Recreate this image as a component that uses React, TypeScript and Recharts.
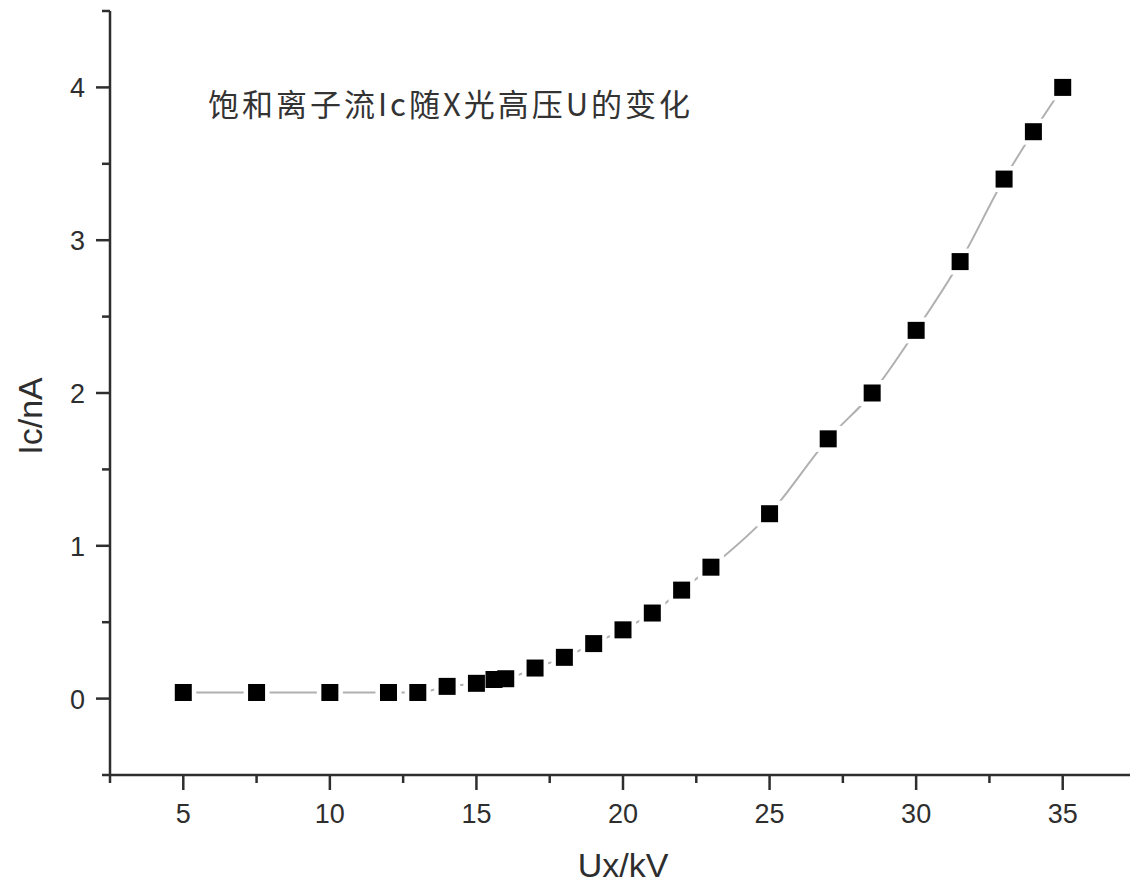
import React from 'react';
import { ComposedChart, Line, Scatter, XAxis, YAxis, Label } from 'recharts';

const voltage = [5, 7.5, 10, 12, 13, 14, 15, 15.6, 16, 17, 18, 19, 20, 21, 22, 23, 25, 27, 28.5, 30, 31.5, 33, 34, 35];
const current = [0.04, 0.04, 0.04, 0.04, 0.04, 0.08, 0.1, 0.125, 0.13, 0.2, 0.27, 0.36, 0.45, 0.56, 0.71, 0.86, 1.21, 1.7, 2.0, 2.41, 2.86, 3.4, 3.71, 4.0];
const xTicks = [2.5, 5, 7.5, 10, 12.5, 15, 17.5, 20, 22.5, 25, 27.5, 30, 32.5, 35, 37.5];
const yTicks = [-0.5, 0, 0.5, 1, 1.5, 2, 2.5, 3, 3.5, 4, 4.5];
const title = '饱和离子流Ic随X光高压U的变化';
const xLabel = 'Ux/kV';
const yLabel = 'Ic/nA';

const data = voltage.map((x, i) => ({ x, y: current[i] }));

const AXIS = '#2e2e2e';
const FONT = '"Liberation Sans", Arial, sans-serif';

const XTick = (props: any) => {
  const { x, y, payload } = props;
  const v = payload.value;
  const major = v % 5 === 0;
  return (
    <g>
      <line x1={x} x2={x} y1={y} y2={y + (major ? 15 : 8)} stroke={AXIS} strokeWidth={2.5} />
      {major && (
        <text x={x} y={y + 48} textAnchor="middle" fontSize={27} fill={AXIS} fontFamily={FONT}>
          {v}
        </text>
      )}
    </g>
  );
};

const YTick = (props: any) => {
  const { x, y, payload } = props;
  const v = payload.value;
  const major = Number.isInteger(v);
  return (
    <g>
      <line x1={x} x2={x - (major ? 14 : 8)} y1={y} y2={y} stroke={AXIS} strokeWidth={2.5} />
      {major && (
        <text x={x - 25} y={y + 10} textAnchor="end" fontSize={27} fill={AXIS} fontFamily={FONT}>
          {v}
        </text>
      )}
    </g>
  );
};

const Halo = (props: any) => {
  const { cx, cy, index } = props;
  if (cx == null || cy == null) return <g key={`h${index}`} />;
  return <rect key={`h${index}`} x={cx - 13} y={cy - 13} width={26} height={26} fill="#fff" />;
};

const Square = (props: any) => {
  const { cx, cy } = props;
  return <rect x={cx - 8.5} y={cy - 8.5} width={17} height={17} fill="#000" />;
};

const Texts = () => (
  <g>
    <text x={208} y={116} fontSize={31} letterSpacing={3} fill="#333" fontFamily='"Noto Sans CJK SC", sans-serif'>
      {title}
    </text>
    <text x={623} y={877} textAnchor="middle" fontSize={34} fill={AXIS} fontFamily={FONT}>
      {xLabel}
    </text>
    <text
      x={42}
      y={416}
      textAnchor="middle"
      fontSize={34}
      fill={AXIS}
      fontFamily={FONT}
      transform="rotate(-90 42 416)"
    >
      {yLabel}
    </text>
  </g>
);

export default function App() {
  return (
    <div style={{ position: 'absolute', left: 0, top: 0, width: 1130, height: 884, overflow: 'hidden', background: '#fff' }}>
      <ComposedChart width={1136} height={884} data={data} margin={{ top: 11, right: 0, bottom: 0, left: 0 }}>
        <XAxis
          type="number"
          dataKey="x"
          domain={[2.5, 37.5]}
          ticks={xTicks}
          interval={0}
          height={109}
          tickSize={0}
          tickMargin={0}
          tickLine={false}
          axisLine={{ stroke: AXIS, strokeWidth: 2.5 }}
          tick={XTick}
          allowDataOverflow
        />
        <YAxis
          type="number"
          domain={[-0.5, 4.5]}
          ticks={yTicks}
          interval={0}
          width={110}
          tickSize={0}
          tickMargin={0}
          tickLine={false}
          axisLine={{ stroke: AXIS, strokeWidth: 2.5 }}
          tick={YTick}
          allowDataOverflow
        >
          <Label content={() => <Texts />} />
        </YAxis>
        <Line
          dataKey="y"
          type="monotone"
          stroke="#b0b0b0"
          strokeWidth={2}
          dot={Halo}
          activeDot={false}
          isAnimationActive={false}
        />
        <Scatter dataKey="y" shape={Square} isAnimationActive={false} />
      </ComposedChart>
    </div>
  );
}
